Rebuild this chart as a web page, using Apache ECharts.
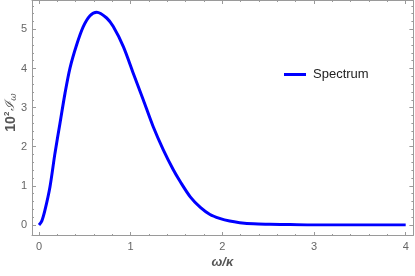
<!DOCTYPE html>
<html><head><meta charset="utf-8">
<script src="https://cdn.jsdelivr.net/npm/echarts@6/dist/echarts.min.js"></script>
<style>html,body{margin:0;padding:0;background:#fff}#c{width:415px;height:276px}</style>
</head><body><div id="c"></div>
<script>
const omega = [0, 0.03, 0.065, 0.12, 0.174, 0.229, 0.284, 0.338, 0.41, 0.483, 0.556, 0.63, 0.738, 0.81, 0.92, 1.028, 1.137, 1.246, 1.356, 1.465, 1.54, 1.65, 1.76, 1.865, 1.97, 2.08, 2.19, 2.34, 2.52, 2.74, 3.0, 3.5, 4.0];
const intensity = [0, 0.1, 0.38, 0.98, 1.83, 2.60, 3.37, 4.01, 4.60, 5.07, 5.35, 5.44, 5.29, 5.07, 4.56, 3.88, 3.20, 2.51, 1.92, 1.41, 1.11, 0.72, 0.45, 0.27, 0.17, 0.10, 0.06, 0.03, 0.02, 0.01, 0.0, 0.0, 0.0];
const xTicks = [0, 1, 2, 3, 4];
const yTicks = [0, 1, 2, 3, 4, 5];
const seriesName = 'Spectrum';

const frameColor = '#9a9a9a';
const labelColor = '#666';
const chart = echarts.init(document.getElementById('c'), null, {renderer: 'canvas'});
const fmtX = v => xTicks.includes(Math.round(v*1000)/1000) ? String(Math.round(v)) : '';
const fmtY = v => yTicks.includes(Math.round(v*1000)/1000) ? String(Math.round(v)) : '';
const tick = {show: true, inside: true, length: 4, lineStyle: {color: frameColor}};
const minor = {show: true, splitNumber: 5, length: 2, lineStyle: {color: frameColor}};
const frameAxis = (pos) => ({gridIndex: 0, type: 'value', min: 0, max: 1, position: pos,
  axisLine: {show: true, onZero: false, lineStyle: {color: frameColor, width: 1}},
  axisTick: {show: false}, axisLabel: {show: false}, splitLine: {show: false}});
chart.setOption({
  animation: false,
  grid: [
    {left: 32, right: 2, top: 0.5, bottom: 40.5, containLabel: false, outerBoundsMode: 'none'},
    {left: 39, right: 9.3, top: 0, bottom: 51, containLabel: false, outerBoundsMode: 'none'}
  ],
  legend: {
    data: [seriesName], left: 279, top: 63, icon: 'rect', itemWidth: 22, itemHeight: 3, itemGap: 0,
    textStyle: {fontFamily: 'Liberation Sans', fontSize: 13, color: '#222', padding: [0,0,0,2]}
  },
  xAxis: [
    frameAxis('bottom'), frameAxis('top'),
    {gridIndex: 1, type: 'value', min: 0, max: 4, interval: 1, position: 'bottom', offset: 11,
      axisLine: {show: false, onZero: false}, axisTick: tick, minorTick: minor, splitLine: {show: false},
      axisLabel: {formatter: fmtX, color: labelColor, fontFamily: 'Liberation Sans', fontSize: 11, margin: 5},
      name: 'ω/κ', nameLocation: 'middle', nameGap: 20, nameMoveOverlap: false,
      nameTextStyle: {fontFamily: 'Liberation Sans', fontSize: 13, fontWeight: 'bold', fontStyle: 'italic', color: '#555'}},
    {gridIndex: 1, type: 'value', min: 0, max: 4, interval: 1, position: 'top', offset: 0,
      axisLine: {show: false, onZero: false}, axisTick: tick, minorTick: minor, splitLine: {show: false}, axisLabel: {show: false}}
  ],
  yAxis: [
    frameAxis('left'), frameAxis('right'),
    {gridIndex: 1, type: 'value', min: 0, max: 5.75, interval: 1, position: 'left', offset: 7,
      axisLine: {show: false, onZero: false}, axisTick: tick, minorTick: minor, splitLine: {show: false},
      axisLabel: {formatter: fmtY, color: labelColor, fontFamily: 'Liberation Sans', fontSize: 11, margin: 5, showMaxLabel: false},
      name: '{a|10}{s|2}{i|ℐ}{w|ω}', nameLocation: 'middle', nameGap: 13, nameRotate: 90, nameMoveOverlap: false,
      nameTextStyle: {color: '#555', fontFamily: 'Liberation Sans',
        rich: {
          a: {fontSize: 14, fontWeight: 'bold', color: '#555', fontFamily: 'Liberation Sans'},
          s: {fontSize: 8, fontWeight: 'bold', color: '#555', verticalAlign: 'top', padding: [0,1,8,0], fontFamily: 'Liberation Sans'},
          i: {fontSize: 13, fontStyle: 'italic', color: '#555', fontFamily: 'DejaVu Serif'},
          w: {fontSize: 9, fontStyle: 'italic', color: '#555', padding: [6,0,0,0], fontFamily: 'DejaVu Serif'}
        }}},
    {gridIndex: 1, type: 'value', min: 0, max: 5.75, interval: 1, position: 'right', offset: 7.7,
      axisLine: {show: false, onZero: false}, axisTick: tick, minorTick: minor, splitLine: {show: false}, axisLabel: {show: false}}
  ],
  series: [{
    name: seriesName, type: 'line', xAxisIndex: 2, yAxisIndex: 2,
    data: omega.map((w, i) => [w, intensity[i]]),
    showSymbol: false, symbol: 'none', smooth: 0.3,
    lineStyle: {color: '#0000ff', width: 3}, itemStyle: {color: '#0000ff'}
  }]
});
</script></body></html>
